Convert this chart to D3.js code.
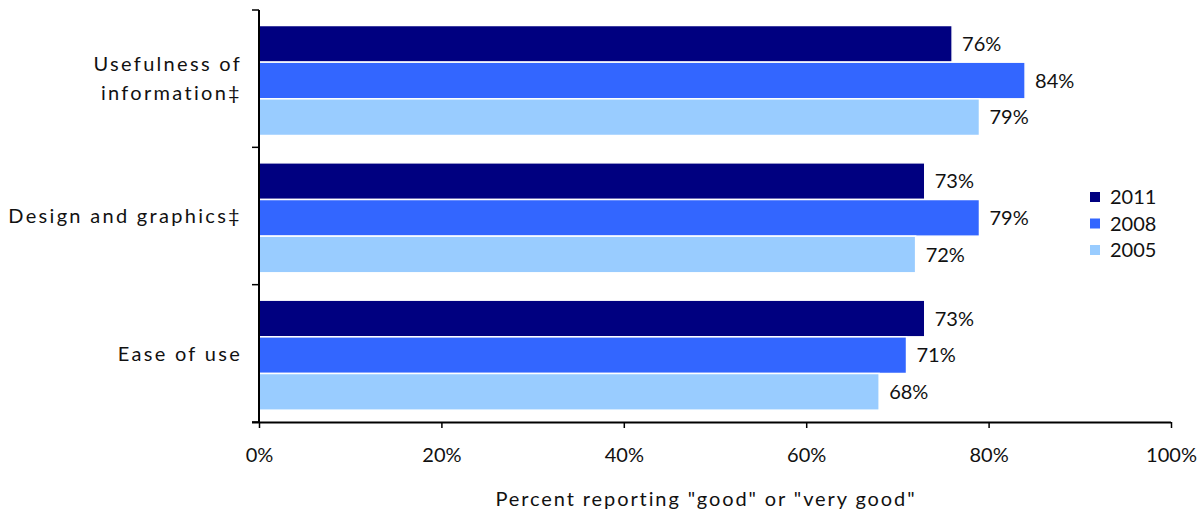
<!DOCTYPE html>
<html>
<head>
<meta charset="utf-8">
<script src="https://cdn.jsdelivr.net/npm/d3@7"></script>
<style>
  html, body { margin: 0; padding: 0; background: #fff; }
  svg { display: block; }
  text { font-family: Lato, "Open Sans", sans-serif; fill: #111; }
</style>
</head>
<body>
<svg id="chart" width="1204" height="514"></svg>
<script>
// Survey ratings by year
const categories = [["Usefulness of", "information\u2021"], ["Design and graphics\u2021"], ["Ease of use"]];
const categoryKeys = ["Usefulness of information", "Design and graphics", "Ease of use"];
const seriesNames = ["2011", "2008", "2005"];
const values2011 = [76, 73, 73];
const values2008 = [84, 79, 71];
const values2005 = [79, 72, 68];
const xTicks = [0, 20, 40, 60, 80, 100];
const xTitle = 'Percent reporting "good" or "very good"';
const colors = ["#000080", "#3366FF", "#99CCFF"];

const seriesValues = [values2011, values2008, values2005];
const rows = categoryKeys.map((k, i) => ({
  key: k,
  lines: categories[i],
  vals: seriesNames.map((s, j) => ({ series: s, value: seriesValues[j][i], color: colors[j] }))
}));

const svg = d3.select("#chart");
const plotLeft = 259, plotRight = 1171, plotTop = 10, plotBottom = 422;
const fontSize = 20;

const x = d3.scaleLinear().domain([0, 100]).range([plotLeft, plotRight]);
const y = d3.scaleBand().domain(categoryKeys).range([plotTop, plotBottom]).padding(0);
const bw = y.bandwidth();
const ySub = d3.scaleBand().domain(seriesNames).range([15.5, 125.5]).padding(0);

// bars
const groups = svg.append("g").selectAll("g").data(rows).join("g")
  .attr("transform", d => `translate(0,${y(d.key)})`);

groups.selectAll("rect").data(d => d.vals).join("rect")
  .attr("x", x(0))
  .attr("y", d => ySub(d.series))
  .attr("width", d => x(d.value) - x(0))
  .attr("height", ySub.bandwidth())
  .attr("fill", d => d.color)
  .attr("stroke", "#fff")
  .attr("stroke-width", 1.5);

// value labels
groups.selectAll("text.val").data(d => d.vals).join("text")
  .attr("class", "val")
  .attr("x", d => x(d.value) + 10)
  .attr("y", d => ySub(d.series) + ySub.bandwidth() / 2)
  .attr("dy", "0.36em")
  .attr("font-size", fontSize)
  .text(d => d.value + "%");

// x axis
const xAxis = svg.append("g")
  .attr("transform", `translate(0,${plotBottom})`)
  .call(d3.axisBottom(x).tickValues(xTicks).tickFormat(d => d + "%").tickSize(6).tickPadding(20).tickSizeOuter(0));
xAxis.select(".domain").attr("stroke", "#000").attr("stroke-width", 2).attr("d", `M${plotLeft - 7},0.5H${plotRight}`);
xAxis.selectAll(".tick line").attr("stroke", "#000").attr("stroke-width", 1.5);
xAxis.selectAll(".tick text").attr("font-size", fontSize).attr("fill", "#111")
  .attr("font-family", "Lato, 'Open Sans', sans-serif");

// y axis with boundary ticks between groups
const yEdges = [plotTop, ...categoryKeys.map(k => y(k) + bw)];
svg.append("line").attr("x1", plotLeft).attr("x2", plotLeft).attr("y1", plotTop).attr("y2", plotBottom + 1)
  .attr("stroke", "#000").attr("stroke-width", 2);
svg.append("g").selectAll("line").data(yEdges).join("line")
  .attr("x1", plotLeft - 7).attr("x2", plotLeft).attr("y1", d => d).attr("y2", d => d)
  .attr("stroke", "#000").attr("stroke-width", 1.5);

// category labels
const catLabels = svg.append("g").selectAll("text").data(rows).join("text")
  .attr("text-anchor", "end")
  .attr("font-size", fontSize)
  .attr("letter-spacing", "2.3px")
  .attr("transform", d => `translate(242,${y(d.key) + bw / 2})`);
catLabels.selectAll("tspan").data(d => d.lines.map((l, i) => ({ l, i, n: d.lines.length }))).join("tspan")
  .attr("x", 0)
  .attr("y", d => (d.i - (d.n - 1) / 2) * 29)
  .attr("dy", "0.36em")
  .text(d => d.l);

// axis title
svg.append("text")
  .attr("x", 706).attr("y", 506)
  .attr("text-anchor", "middle")
  .attr("font-size", fontSize)
  .attr("letter-spacing", "1.9px")
  .text(xTitle);

// legend
const legend = svg.append("g").attr("transform", "translate(1090,197)");
const li = legend.selectAll("g").data(seriesNames).join("g")
  .attr("transform", (d, i) => `translate(0,${i * 26.5})`);
li.append("rect").attr("x", 0).attr("y", -5).attr("width", 10).attr("height", 10)
  .attr("fill", (d, i) => colors[i]);
li.append("text").attr("x", 20).attr("dy", "0.36em").attr("font-size", fontSize).text(d => d);
</script>
</body>
</html>
